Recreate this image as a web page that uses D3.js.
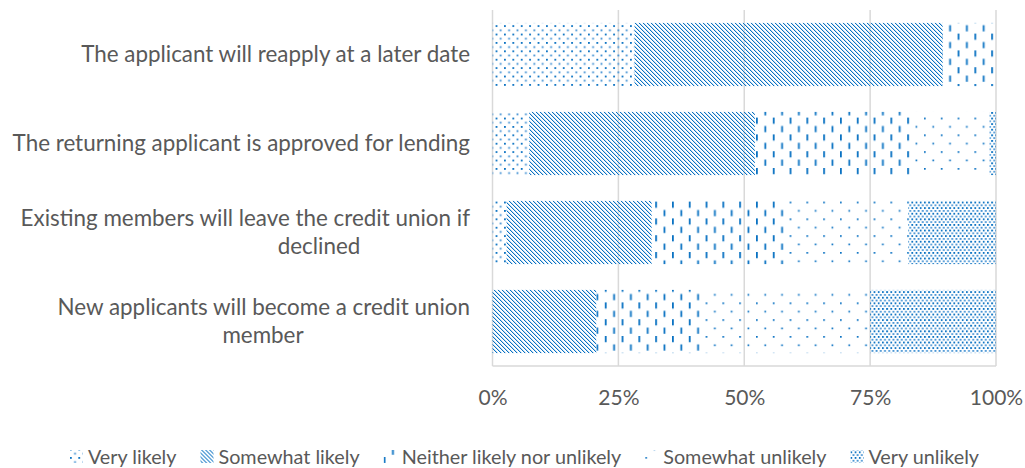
<!DOCTYPE html>
<html>
<head>
<meta charset="utf-8">
<script src="https://cdn.jsdelivr.net/npm/d3@7"></script>
<style>
  html, body { margin: 0; padding: 0; background: #fff; }
  svg { display: block; }
  text { font-family: Lato, "Open Sans", sans-serif; fill: #595959; }
</style>
</head>
<body>
<svg id="chart" width="1025" height="468"></svg>
<script>
// Survey responses, percent of respondents per statement
const categories = [
  "The applicant will reapply at a later date",
  "The returning applicant is approved for lending",
  "Existing members will leave the credit union if declined",
  "New applicants will become a credit union member"
];
const categoryLines = [
  ["The applicant will reapply at a later date"],
  ["The returning applicant is approved for lending"],
  ["Existing members will leave the credit union if", "declined"],
  ["New applicants will become a credit union", "member"]
];
const seriesNames = [
  "Very likely",
  "Somewhat likely",
  "Neither likely nor unlikely",
  "Somewhat unlikely",
  "Very unlikely"
];
const veryLikely        = [28.2, 7.3, 2.8, 0];
const somewhatLikely    = [61.2, 44.8, 28.8, 20.6];
const neither           = [10.6, 31.2, 26.5, 20.6];
const somewhatUnlikely  = [0, 15.4, 24.5, 33.8];
const veryUnlikely      = [0, 1.3, 17.4, 25.0];
const tickValues = [0, 25, 50, 75, 100];
const tickLabels = ["0%", "25%", "50%", "75%", "100%"];

const seriesValues = [veryLikely, somewhatLikely, neither, somewhatUnlikely, veryUnlikely];
const rows = categories.map((c, i) => {
  const r = { category: c };
  seriesNames.forEach((s, k) => { r[s] = seriesValues[k][i]; });
  return r;
});

const svg = d3.select("#chart");
const blue = "#0a72c2";
const midBlue = "#3f8fd2";
const paleBlue = "#c4ddf2";

// Fill patterns, one per response level
const defs = svg.append("defs");
function pattern(id, w, h) {
  return defs.append("pattern")
    .attr("id", id)
    .attr("patternUnits", "userSpaceOnUse")
    .attr("width", w).attr("height", h);
}
function dot(p, x0, y0, w, h, c) {
  p.append("rect").attr("x", x0).attr("y", y0).attr("width", w).attr("height", h).attr("fill", c);
}
// small dots, staggered
let p = pattern("pat0", 8.4, 8.4);
dot(p, 0, 0, 1.8, 1.8, blue);
dot(p, 4.2, 4.2, 1.8, 1.8, midBlue);
// downward diagonal lines, one pixel stair with a soft edge
p = pattern("pat1", 4, 4).attr("shape-rendering", "crispEdges");
for (let k = 0; k < 4; k++) {
  dot(p, k, k, 1, 1, blue);
  dot(p, (k + 1) % 4, k, 1, 1, paleBlue);
}
// dashed verticals
p = pattern("pat2", 16.8, 16.8);
dot(p, 0, 0, 1.8, 6.2, blue);
dot(p, 8.4, 8.4, 1.8, 6.2, blue);
// sparse dots
p = pattern("pat3", 16.8, 16.8);
dot(p, 0, 0, 1.7, 1.7, blue);
dot(p, 8.4, 8.4, 1.7, 1.7, blue);
// dense dots
p = pattern("pat4", 4.2, 5.6);
dot(p, 0, 0, 1.8, 1.8, blue);
dot(p, 2.1, 2.8, 1.8, 1.8, midBlue);

const plotTop = 10, plotBottom = 366;
const x = d3.scaleLinear().domain([0, 100]).range([492.5, 996]);
const y = d3.scaleBand().domain(categories)
  .range([plotTop, plotBottom])
  .paddingInner(0.29).paddingOuter(0.145);

// Gridlines
svg.append("g").selectAll("line").data(tickValues).join("line")
  .attr("x1", d => x(d)).attr("x2", d => x(d))
  .attr("y1", plotTop).attr("y2", plotBottom)
  .attr("stroke", "#d9d9d9").attr("stroke-width", 1.5);

// Stacked bars
const stack = d3.stack().keys(seriesNames)(rows);
svg.append("g").selectAll("g").data(stack).join("g")
  .attr("fill", (d, i) => `url(#pat${i})`)
  .selectAll("rect").data(d => d).join("rect")
  .attr("x", d => x(d[0]))
  .attr("width", d => Math.max(0, x(d[1]) - x(d[0])))
  .attr("y", d => y(d.data.category))
  .attr("height", y.bandwidth());

// Bottom axis line
svg.append("line")
  .attr("x1", x(0)).attr("x2", x(100))
  .attr("y1", plotBottom).attr("y2", plotBottom)
  .attr("stroke", "#d9d9d9").attr("stroke-width", 1.5);

// X axis labels
const xAxis = d3.axisBottom(x).tickValues(tickValues)
  .tickFormat((d, i) => tickLabels[i]).tickSize(0).tickPadding(24);
const gx = svg.append("g").attr("transform", `translate(0,${plotBottom})`).call(xAxis);
gx.select(".domain").remove();
gx.selectAll("text").attr("font-size", 21).attr("fill", "#595959")
  .style("font-family", "Lato, 'Open Sans', sans-serif");

// Category labels (wrapped second lines sit under the first)
const labelX = 470;
const lineH = 28;
const labelSize = 22.4;
const secondLineCenter = [null, null, 319, 263];
const lab = svg.append("g");
categories.forEach((c, i) => {
  const lines = categoryLines[i];
  const cy = y(c) + y.bandwidth() / 2;
  if (lines.length === 1) {
    lab.append("text").attr("font-size", labelSize).attr("text-anchor", "end")
      .attr("x", labelX).attr("y", cy).attr("dy", "0.35em").text(lines[0]);
  } else {
    lab.append("text").attr("font-size", labelSize).attr("text-anchor", "end")
      .attr("x", labelX).attr("y", cy - lineH / 2).attr("dy", "0.35em").text(lines[0]);
    lab.append("text").attr("font-size", labelSize).attr("text-anchor", "middle")
      .attr("x", secondLineCenter[i]).attr("y", cy + lineH / 2).attr("dy", "0.35em").text(lines[1]);
  }
});

// Legend
const legendY = 457;
const sw = 13, swGap = 5, itemGap = 24;
const leg = svg.append("g");
const items = seriesNames.map((s, i) => {
  const g = leg.append("g");
  g.append("rect").attr("x", 0).attr("y", -7).attr("width", sw).attr("height", 13)
    .attr("fill", `url(#pat${i})`);
  const t = g.append("text").attr("x", sw + swGap).attr("y", 0).attr("dy", "0.35em")
    .attr("font-size", 19.8).text(s);
  return { g, w: sw + swGap + t.node().getComputedTextLength() };
});
const total = d3.sum(items, d => d.w) + itemGap * (items.length - 1);
let cx = 524.5 - total / 2;
items.forEach(it => {
  it.g.attr("transform", `translate(${cx},${legendY})`);
  cx += it.w + itemGap;
});
</script>
</body>
</html>
